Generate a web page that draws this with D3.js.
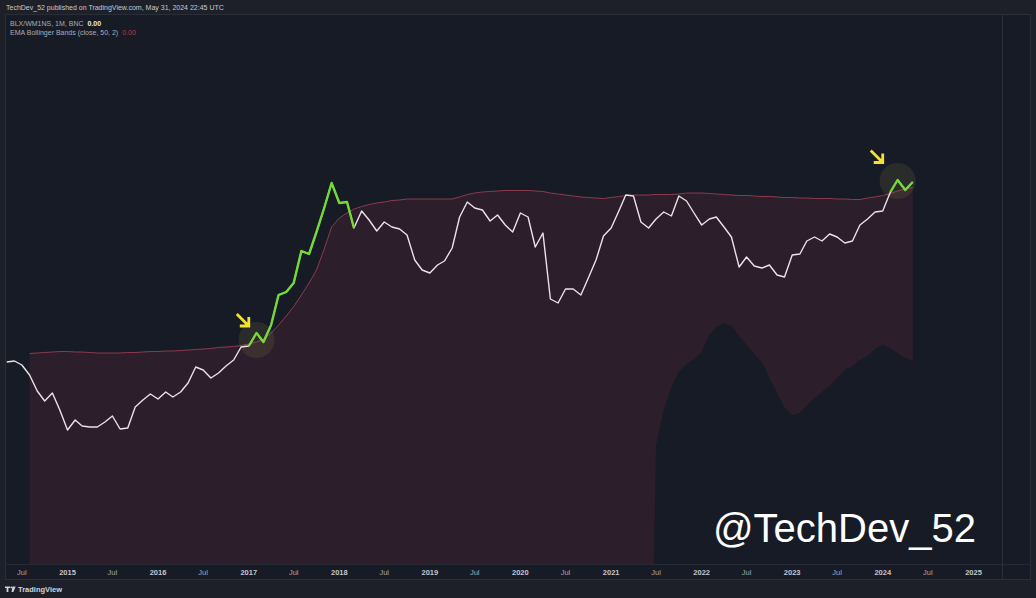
<!DOCTYPE html>
<html lang="en">
<head>
<meta charset="utf-8">
<style>
  body { margin: 0; background: #1e2029; }
  svg { display: block; }
  text { font-family: "Liberation Sans", Arial, sans-serif; }
</style>
</head>
<body>
<script src="https://d3js.org/d3.v7.min.js"></script>
<script>
var width = 1036, height = 598;

// monthly closes BLX/WM1NS (index units), starting May 2014
var priceStart = "2014-05";
var price = [
  40.2, 40.4, 39.6, 37.6, 34.4, 32.4, 34.0, 30.6,
  26.6, 28.6, 27.4, 27.2, 27.2, 28.2, 29.4, 26.8, 27.0, 31.2, 32.6, 33.8,
  32.8, 34.2, 33.2, 34.2, 36.0, 39.2, 38.6, 37.0, 38.0, 39.4, 40.6, 43.2,
  43.4, 46.0, 44.2, 47.6, 53.6, 54.2, 56.0, 62.4, 61.8, 66.2, 71.0, 76.0,
  72.0, 72.2, 67.0, 70.4, 68.6, 66.4, 68.2, 67.2, 66.8, 65.6, 60.6, 58.6,
  58.0, 59.6, 60.4, 63.0, 69.2, 72.2, 71.0, 70.6, 68.4, 69.6, 67.6, 66.2,
  70.0, 69.2, 63.2, 66.0, 52.8, 52.0, 54.8, 54.8, 53.6, 57.0, 60.6, 65.4,
  67.0, 70.4, 73.6, 73.4, 68.2, 67.0, 68.8, 70.2, 69.4, 73.4, 72.4, 70.0,
  67.6, 68.8, 69.2, 67.2, 65.2, 59.2, 61.2, 59.4, 59.0, 59.6, 57.6, 57.2,
  61.6, 61.8, 64.4, 65.2, 64.4, 65.8, 65.2, 64.0, 64.4, 67.6, 68.8, 70.2,
  70.4, 74.2, 76.6, 74.6, 76.2
];

// EMA Bollinger upper band, starting Aug 2014
var upperStart = "2014-08";
var upperBand = [
  41.9, 42.0, 42.1, 42.2, 42.3,
  42.3, 42.2, 42.2, 42.1, 42.0, 42.0, 42.0, 42.0, 42.1, 42.1, 42.2, 42.3,
  42.3, 42.4, 42.4, 42.5, 42.6, 42.7, 42.8, 42.9, 43.1, 43.2, 43.3, 43.5,
  43.8, 44.2, 44.7, 46.0, 47.6, 49.4, 51.3, 53.6, 56.0, 58.6, 62.8, 67.2,
  69.0, 70.0, 70.8, 71.3, 71.7, 72.0, 72.2, 72.5, 72.6, 72.8, 72.8, 72.8,
  72.8, 72.8, 72.8, 72.8, 73.2, 73.7, 74.0, 74.2, 74.3, 74.4, 74.5, 74.5,
  74.5, 74.5, 74.4, 74.3, 74.0, 73.8, 73.6, 73.4, 73.2, 73.1, 73.0, 72.9,
  73.1, 73.3, 73.5, 73.6, 73.6, 73.6, 73.7, 73.7, 73.7, 73.8, 74.0, 74.0,
  74.0, 73.9, 73.8, 73.7, 73.6, 73.5, 73.5, 73.4, 73.3, 73.3, 73.2, 73.1,
  73.1, 73.0, 73.0, 72.9, 72.9, 72.9, 72.8, 72.8, 72.7, 72.7, 73.0, 73.2,
  73.5, 73.9, 74.4, 74.8, 75.1
];

// lower band, only the part that comes into view (earlier months are far below)
var lowerStart = "2021-06";
var lowerBand = [
  -60, 23.6, 30.6, 35.2, 38.2, 39.8, 40.8,
  42.2, 45.6, 47.2, 48.0, 47.4, 45.4, 43.6, 41.8, 40.2, 37.0, 34.0, 31.0,
  29.6, 30.0, 31.4, 33.0, 34.2, 35.4, 37.0, 38.6, 39.4, 40.6, 41.4, 42.8,
  43.6, 43.0, 42.0, 41.0, 40.4
];

// green stretches (close above band)
var breakouts = [["2017-01", "2018-03"], ["2024-02", "2024-05"]];

// annotation circles and arrows
var circleDates = ["2017-02", "2024-03"];
var circleValues = [44.6, 76.4];
var arrowDates = ["2017-01", "2024-01"];
var arrowValues = [47.4, 80.1];

var parseMonth = d3.utcParse("%Y-%m");

var pane = { left: 5, right: 1002, top: 14, bottom: 564 };

var x = d3.scaleUtc()
  .domain([new Date(Date.UTC(2015, 0, 1)), new Date(Date.UTC(2025, 0, 1))])
  .range([67.5, 973.5]);

var y = d3.scaleLinear()
  .domain([0, 110])
  .range([563, 13]);

function series(start, values) {
  var s = parseMonth(start);
  return values.map(function(v, i) { return { date: d3.utcMonth.offset(s, i), value: v }; });
}

var priceData = series(priceStart, price);
var upperData = series(upperStart, upperBand);
var lowerData = series(lowerStart, lowerBand);
var lowerStartDate = parseMonth(lowerStart);

var bandData = upperData.map(function(d) {
  var lo = null;
  if (d.date >= lowerStartDate) {
    lo = lowerData[d3.utcMonth.count(lowerStartDate, d.date)];
  }
  return { date: d.date, upper: d.value, lower: lo ? lo.value : null };
});

var svg = d3.select("body").append("svg")
  .attr("width", width)
  .attr("height", height);

// chart frame
svg.append("rect")
  .attr("x", 5.5).attr("y", 14.5)
  .attr("width", 1025).attr("height", 565)
  .attr("fill", "#171b26")
  .attr("stroke", "#2a2e39");

svg.append("line")
  .attr("x1", pane.right + 0.5).attr("x2", pane.right + 0.5)
  .attr("y1", 14.5).attr("y2", 579.5)
  .attr("stroke", "#2a2e39");

svg.append("line")
  .attr("x1", 5.5).attr("x2", 1030.5)
  .attr("y1", pane.bottom + 0.5).attr("y2", pane.bottom + 0.5)
  .attr("stroke", "#252935");

svg.append("clipPath").attr("id", "plot")
  .append("rect")
  .attr("x", pane.left + 1).attr("y", pane.top + 1)
  .attr("width", pane.right - pane.left - 1)
  .attr("height", pane.bottom - pane.top - 1);

var plot = svg.append("g").attr("clip-path", "url(#plot)");

// band fill
var band = d3.area()
  .x(function(d) { return x(d.date); })
  .y1(function(d) { return y(d.upper); })
  .y0(function(d) { return d.lower === null ? pane.bottom + 5 : y(d.lower); });

plot.append("path")
  .datum(bandData)
  .attr("d", band)
  .attr("fill", "#2c1e2a");

plot.append("path")
  .datum(upperData)
  .attr("d", d3.line().x(function(d) { return x(d.date); }).y(function(d) { return y(d.value); }))
  .attr("fill", "none")
  .attr("stroke", "#8c3b4d")
  .attr("stroke-width", 1);

// highlight circles
circleDates.forEach(function(c, i) {
  plot.append("circle")
    .attr("cx", x(parseMonth(c)))
    .attr("cy", y(circleValues[i]))
    .attr("r", 18)
    .attr("fill", "rgba(140,135,80,0.16)");
});

var line = d3.line()
  .x(function(d) { return x(d.date); })
  .y(function(d) { return y(d.value); });

plot.append("path")
  .datum(priceData)
  .attr("d", line)
  .attr("fill", "none")
  .attr("stroke", "#ece2ea")
  .attr("stroke-width", 1.4)
  .attr("stroke-linejoin", "round");

breakouts.forEach(function(b) {
  var a = parseMonth(b[0]), z = parseMonth(b[1]);
  var seg = priceData.filter(function(d) { return d.date >= a && d.date <= z; });
  plot.append("path")
    .datum(seg)
    .attr("d", line)
    .attr("fill", "none")
    .attr("stroke", "#74d937")
    .attr("stroke-width", 2.4)
    .attr("stroke-linejoin", "round");
});

// yellow arrows
arrowDates.forEach(function(a, i) {
  var tx = x(parseMonth(a)), ty = y(arrowValues[i]);
  svg.append("path")
    .attr("d", "M" + (tx - 12) + "," + (ty - 12) + "L" + (tx - 1) + "," + (ty - 1) +
      "M" + (tx - 9) + "," + ty + "L" + tx + "," + ty + "L" + tx + "," + (ty - 9))
    .attr("fill", "none")
    .attr("stroke", "#f5e22e")
    .attr("stroke-width", 2.8)
    .attr("stroke-linejoin", "miter");
});

// time axis
var ticks = d3.utcMonth.every(6).range(new Date(Date.UTC(2014, 6, 1)), new Date(Date.UTC(2025, 1, 1)));
svg.append("g").selectAll("text")
  .data(ticks)
  .enter().append("text")
  .attr("x", function(d) { return x(d); })
  .attr("y", 575)
  .attr("text-anchor", "middle")
  .attr("font-size", "7.5px")
  .attr("font-weight", function(d) { return d.getUTCMonth() === 0 ? "bold" : "normal"; })
  .attr("fill", function(d) { return d.getUTCMonth() === 0 ? "#c3c6ce" : "#a3a6af"; })
  .text(function(d) { return d.getUTCMonth() === 0 ? d3.utcFormat("%Y")(d) : "Jul"; });

// header texts
svg.append("text")
  .attr("x", 6).attr("y", 9.5)
  .attr("font-size", "7px")
  .attr("fill", "#c6c9d0")
  .text("TechDev_52 published on TradingView.com, May 31, 2024 22:45 UTC");

var leg1 = svg.append("text")
  .attr("x", 10).attr("y", 25.5)
  .attr("font-size", "7px")
  .attr("fill", "#a9adb7");
leg1.append("tspan").text("BLX/WM1NS, 1M, BNC");
leg1.append("tspan").attr("dx", 4).attr("font-weight", "bold").attr("fill", "#e8eaef").text("0.00");

var leg2 = svg.append("text")
  .attr("x", 10).attr("y", 34.5)
  .attr("font-size", "7px")
  .attr("fill", "#a9adb7");
leg2.append("tspan").text("EMA Bollinger Bands (close, 50, 2)");
leg2.append("tspan").attr("dx", 4).attr("fill", "#c53243").text("0.00");

// watermark
svg.append("text")
  .attr("x", 713).attr("y", 542)
  .attr("font-size", "40px")
  .attr("fill", "#ffffff")
  .text("@TechDev_52");

// footer logo
var logo = svg.append("g").attr("fill", "#d1d4dc");
logo.append("path").attr("d", "M5,586.5h5v1.6h-1.6v4h-1.8v-4h-1.6z");
logo.append("circle").attr("cx", 11.3).attr("cy", 587.4).attr("r", 0.9);
logo.append("path").attr("d", "M12.4,586.5h3.2l-2.2,5.6h-1.8z");
svg.append("text")
  .attr("x", 18).attr("y", 592)
  .attr("font-size", "7.5px")
  .attr("font-weight", "bold")
  .attr("fill", "#d1d4dc")
  .text("TradingView");
</script>
</body>
</html>
